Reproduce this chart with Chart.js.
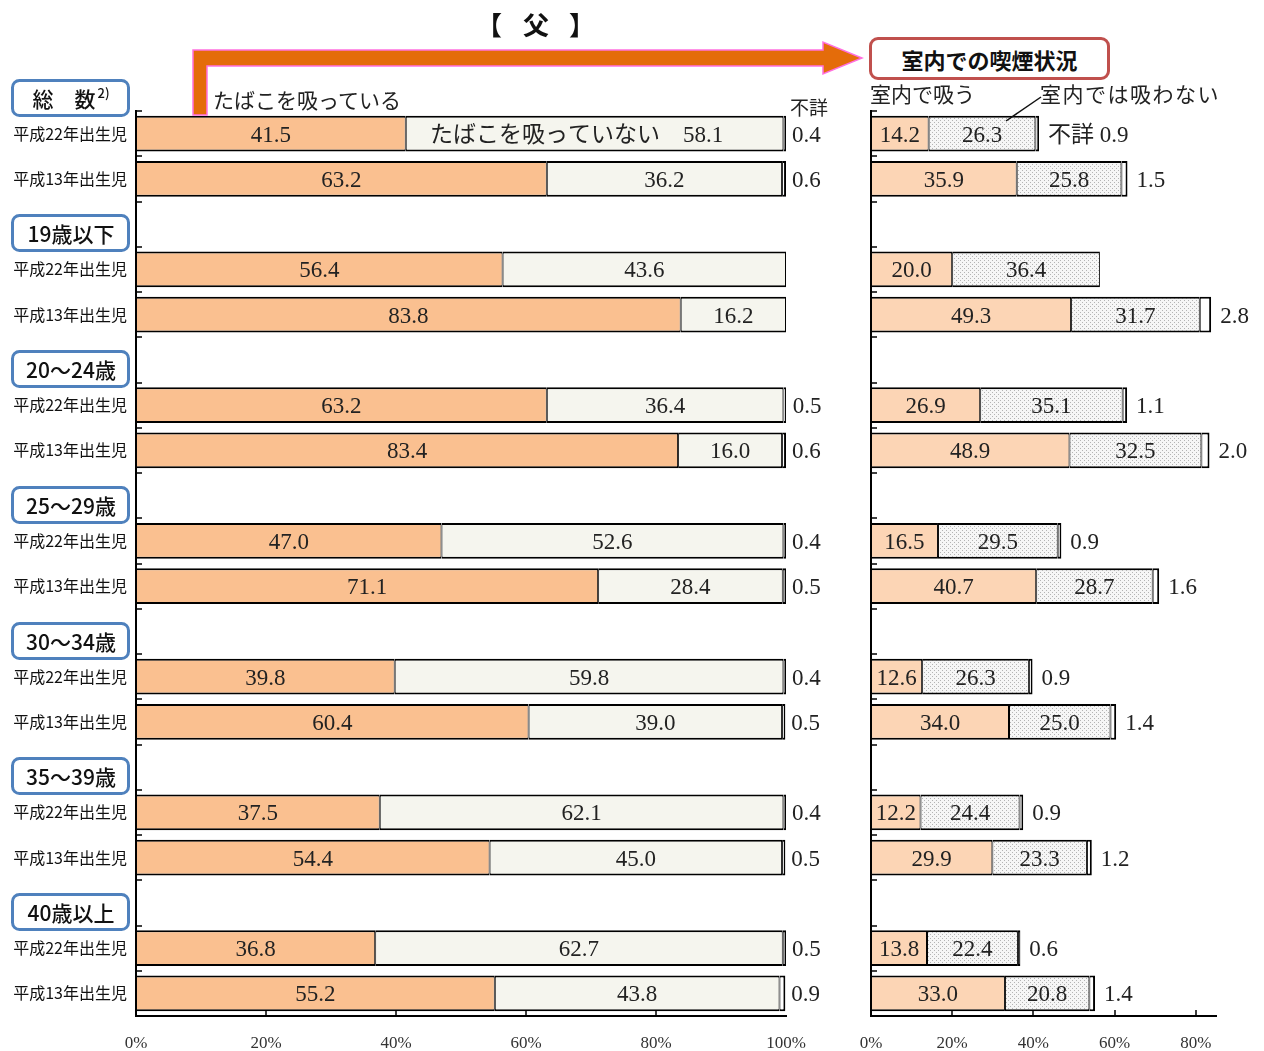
<!DOCTYPE html>
<html lang="ja">
<head>
<meta charset="utf-8">
<title>【父】喫煙状況</title>
<script src="https://cdn.jsdelivr.net/npm/chart.js@4.4.1/dist/chart.umd.min.js"></script>
<style>
  html, body { margin: 0; padding: 0; background: #fff; }
  #page { position: relative; width: 1264px; height: 1051px; overflow: hidden;
          font-family: "Noto Sans CJK JP", sans-serif; color: #222; }
  .wrap { position: absolute; top: 0; height: 1051px; }
  #leftWrap { left: 0; width: 860px; }
  #rightWrap { left: 760px; width: 504px; }
  .note { position: absolute; white-space: nowrap; line-height: 1; }
  .title { top: 11px; font-size: 26px; font-weight: bold; color: #111; }
  #indoorBox { left: 869px; top: 37px; width: 241px; height: 43px; box-sizing: border-box;
               border: 3px solid #c0504d; border-radius: 9px; background: #fff;
               display: flex; align-items: center; justify-content: center;
               font-size: 22px; font-weight: bold; color: #111; }
  #overlay { position: absolute; left: 0; top: 0; pointer-events: none; }
</style>
</head>
<body>
<div id="page">
  <div class="wrap" id="leftWrap"><canvas id="smokeChart"></canvas></div>
  <div class="wrap" id="rightWrap"><canvas id="indoorChart"></canvas></div>

  <svg id="overlay" width="1264" height="1051">
    <polygon points="193,115 193,50 823,50 823,42 862,58 823,74 823,66 207,66 207,115"
             fill="#e46c0a" stroke="#ff70e0" stroke-width="1.5" stroke-linejoin="miter"/>
    <line x1="1041" y1="97" x2="1006" y2="121" stroke="#111" stroke-width="1.5"/>
  </svg>

  <div class="note title" style="left:476px;">【</div>
  <div class="note title" style="left:523px;">父</div>
  <div class="note title" style="left:569px;">】</div>
  <div class="note" style="left:213px; top:89px; font-size:21px;">たばこを吸っている</div>
  <div class="note" style="left:790px; top:97px; font-size:19px;">不詳</div>
  <div class="note" id="indoorBox">室内での喫煙状況</div>
  <div class="note" style="left:870px; top:83px; font-size:21px;">室内で吸う</div>
  <div class="note" style="left:1040px; top:83px; font-size:21px; letter-spacing:1.5px;">室内では吸わない</div>
</div>

<script>
'use strict';

// ---- data ----
const groups = ['総　数', '19歳以下', '20～24歳', '25～29歳', '30～34歳', '35～39歳', '40歳以上'];
const groupNotes = ['2)', '', '', '', '', '', ''];
const cohorts = ['平成22年出生児', '平成13年出生児'];

// たばこを吸っている / 吸っていない / 不詳 (%)
const smoking      = [41.5, 63.2, 56.4, 83.8, 63.2, 83.4, 47.0, 71.1, 39.8, 60.4, 37.5, 54.4, 36.8, 55.2];
const notSmoking   = [58.1, 36.2, 43.6, 16.2, 36.4, 16.0, 52.6, 28.4, 59.8, 39.0, 62.1, 45.0, 62.7, 43.8];
const smokeUnknown = [0.4, 0.6, null, null, 0.5, 0.6, 0.4, 0.5, 0.4, 0.5, 0.4, 0.5, 0.5, 0.9];

// 室内で吸う / 室内では吸わない / 不詳 (%)
const indoor        = [14.2, 35.9, 20.0, 49.3, 26.9, 48.9, 16.5, 40.7, 12.6, 34.0, 12.2, 29.9, 13.8, 33.0];
const notIndoor     = [26.3, 25.8, 36.4, 31.7, 35.1, 32.5, 29.5, 28.7, 26.3, 25.0, 24.4, 23.3, 22.4, 20.8];
const indoorUnknown = [0.9, 1.5, null, 2.8, 1.1, 2.0, 0.9, 1.6, 0.9, 1.4, 0.9, 1.2, 0.6, 1.4];

const leftTicks = [0, 20, 40, 60, 80, 100];
const rightTicks = [0, 20, 40, 60, 80];

// ---- rows: one blank slot before every group except the first ----
const rowLabels = [];
const rowIndex = [];
const groupFirstRow = [];
groups.forEach((g, gi) => {
  if (gi > 0) { rowLabels.push(''); rowIndex.push(-1); }
  groupFirstRow.push(rowLabels.length);
  cohorts.forEach((c, ci) => { rowLabels.push(c); rowIndex.push(gi * 2 + ci); });
});
const toRows = arr => rowIndex.map(i => (i < 0 ? null : arr[i]));

const SERIF = '"Liberation Serif", "DejaVu Serif", "Noto Sans CJK JP", serif';
const SANS = '"Noto Sans CJK JP", sans-serif';
const VALUE_FONT = '23px ' + SERIF;

const BAR_BORDER = { top: 2, bottom: 2, left: 1, right: 1 };
const END_BORDER = { top: 2, bottom: 2, left: 1, right: 2 };

function stipple() {
  const c = document.createElement('canvas');
  c.width = 4; c.height = 4;
  const g = c.getContext('2d');
  g.fillStyle = '#f6f6f6';
  g.fillRect(0, 0, 4, 4);
  g.fillStyle = '#b4b4b4';
  g.fillRect(0, 0, 1, 1);
  g.fillRect(2, 2, 1, 1);
  return g.createPattern(c, 'repeat');
}

// short ticks pointing into the plot, at every row boundary and x step
const innerTicks = {
  id: 'innerTicks',
  afterDraw(chart, args, opts) {
    const { ctx, chartArea: a, scales: { x } } = chart;
    const n = chart.data.labels.length;
    ctx.save();
    ctx.strokeStyle = '#000';
    ctx.lineWidth = 1.5;
    ctx.beginPath();
    for (let i = 0; i <= n; i++) {
      const py = Math.round(a.top + i * (a.bottom - a.top) / n);
      ctx.moveTo(a.left, py);
      ctx.lineTo(a.left + 6, py);
    }
    (opts.xTicks || []).forEach(v => {
      const px = Math.round(x.getPixelForValue(v));
      ctx.moveTo(px, a.bottom);
      ctx.lineTo(px, a.bottom - 6);
    });
    ctx.stroke();
    ctx.restore();
  }
};

const valueLabels = {
  id: 'valueLabels',
  afterDatasetsDraw(chart) {
    const ctx = chart.ctx;
    ctx.save();
    ctx.font = VALUE_FONT;
    ctx.fillStyle = '#222';
    ctx.textBaseline = 'middle';
    chart.data.datasets.forEach((ds, di) => {
      const meta = chart.getDatasetMeta(di);
      meta.data.forEach((bar, i) => {
        const v = ds.data[i];
        if (v == null) return;
        let text = v.toFixed(1);
        if (i === 0 && ds.firstPrefix) text = ds.firstPrefix + text;
        if (ds.outside) {
          ctx.textAlign = 'left';
          ctx.fillText(text, bar.x + ds.outside, bar.y + 2);
        } else {
          ctx.textAlign = 'center';
          const shift = i === 0 && ds.firstShift ? ds.firstShift : 0;
          ctx.fillText(text, (bar.x + bar.base) / 2 + shift, bar.y + 2);
        }
      });
    });
    ctx.restore();
  }
};

// rounded group boxes at the left of the first chart
const groupBoxes = {
  id: 'groupBoxes',
  afterDraw(chart) {
    const { ctx, scales: { y } } = chart;
    ctx.save();
    groups.forEach((g, gi) => {
      const cy = Math.round(y.getPixelForValue(groupFirstRow[gi]) - 36);
      ctx.beginPath();
      ctx.roundRect(12.5, cy - 17.5, 116, 35, 7);
      ctx.fillStyle = '#fff';
      ctx.fill();
      ctx.lineWidth = 3;
      ctx.strokeStyle = '#4f81bd';
      ctx.stroke();

      ctx.fillStyle = '#111';
      ctx.textBaseline = 'middle';
      ctx.font = '500 21px ' + SANS;
      const w = ctx.measureText(g).width;
      ctx.font = '500 13px ' + SANS;
      const nw = groupNotes[gi] ? ctx.measureText(groupNotes[gi]).width + 2 : 0;
      const x0 = 71 - (w + nw) / 2;
      ctx.textAlign = 'left';
      ctx.font = '500 21px ' + SANS;
      ctx.fillText(g, x0, cy + 1);
      if (nw) {
        ctx.font = '500 13px ' + SANS;
        ctx.fillText(groupNotes[gi], x0 + w + 2, cy - 5);
      }
    });
    ctx.restore();
  }
};

function barOptions(max, ticks, padRight, yWidth, showY) {
  return {
    indexAxis: 'y',
    responsive: true,
    maintainAspectRatio: false,
    animation: false,
    layout: { padding: { top: 111, right: padRight, bottom: 0, left: 0 } },
    datasets: {
      bar: { categoryPercentage: 0.79, barPercentage: 1, borderSkipped: false, borderColor: '#000' }
    },
    plugins: {
      legend: { display: false },
      tooltip: { enabled: false },
      innerTicks: { xTicks: ticks.filter(v => v > 0 && v < max) }
    },
    scales: {
      x: {
        stacked: true,
        min: 0,
        max,
        grid: { display: false },
        border: { display: true, color: '#000', width: 2 },
        afterBuildTicks: s => { s.ticks = ticks.map(v => ({ value: v })); },
        afterFit: s => { s.height = 35; },
        ticks: {
          padding: 9,
          maxRotation: 0,
          color: '#333',
          font: { family: SERIF, size: 17 },
          callback: v => v + '%'
        }
      },
      y: {
        stacked: true,
        grid: { display: false },
        border: { display: true, color: '#000', width: 2 },
        afterFit: s => { s.width = yWidth; },
        ticks: {
          display: showY,
          autoSkip: false,
          padding: 1,
          color: '#111',
          font: { family: SANS, size: 16 }
        }
      }
    }
  };
}

new Chart(document.getElementById('smokeChart'), {
  type: 'bar',
  data: {
    labels: rowLabels,
    datasets: [
      { label: 'たばこを吸っている', data: toRows(smoking), backgroundColor: '#fac090', borderWidth: BAR_BORDER },
      { label: 'たばこを吸っていない', data: toRows(notSmoking), backgroundColor: '#f5f5ee', borderWidth: BAR_BORDER,
        firstPrefix: 'たばこを吸っていない　', firstShift: -18 },
      { label: '不詳', data: toRows(smokeUnknown), backgroundColor: '#fff', borderWidth: END_BORDER, outside: 6 }
    ]
  },
  options: barOptions(100, leftTicks, 74, 136, true),
  plugins: [innerTicks, valueLabels, groupBoxes]
});

new Chart(document.getElementById('indoorChart'), {
  type: 'bar',
  data: {
    labels: rowLabels,
    datasets: [
      { label: '室内で吸う', data: toRows(indoor), backgroundColor: '#fcd5b5', borderWidth: BAR_BORDER },
      { label: '室内では吸わない', data: toRows(notIndoor), backgroundColor: stipple(), borderWidth: BAR_BORDER },
      { label: '不詳', data: toRows(indoorUnknown), backgroundColor: '#fff', borderWidth: END_BORDER, outside: 9,
        firstPrefix: '不詳 ' }
    ]
  },
  options: barOptions(85, rightTicks, 48, 111, false),
  plugins: [innerTicks, valueLabels]
});
</script>
</body>
</html>
